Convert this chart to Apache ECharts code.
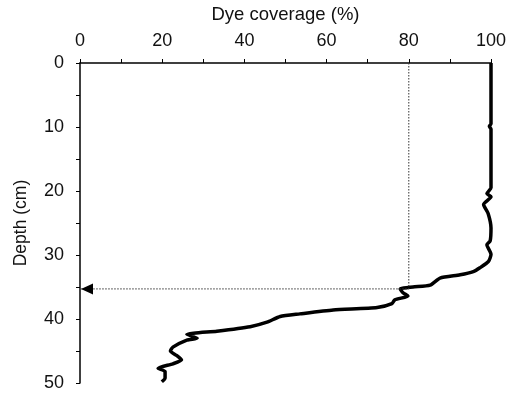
<!DOCTYPE html>
<html>
	<head>
		<meta charset="UTF-8">
		<title></title>
		<script src="https://cdn.jsdelivr.net/npm/echarts@6/dist/echarts.min.js"></script>
	</head>
	<body style="margin:0">
		<div id="profile" style="width: 513px; height: 396px;"></div>
		<script type="text/javascript">
			// dye coverage (%), with matching depth (cm)
			var coverage = [100, 100, 99.6, 100, 100, 99, 100, 98.2, 99.3, 100, 99.8, 99, 100, 99.4, 97.3, 95.7, 92.5, 87.6, 85.2, 81, 77.9, 78.6, 79.8, 76.6, 75.9, 72.3, 61.6, 53.5, 48.7, 45.5, 41.4, 33.3, 26, 28.5, 26, 22.6, 22, 23.5, 24.7, 22.6, 19, 20.7, 20.7, 19.9];
			var depth = [0, 9.5, 9.9, 10.3, 19.5, 20.4, 20.9, 22.1, 23.5, 25.8, 27.8, 28.4, 29.9, 31, 32, 32.6, 33.1, 33.6, 34.7, 35, 35.3, 35.9, 36.4, 37, 37.6, 38.2, 38.6, 39.2, 39.6, 40.5, 41.2, 41.9, 42.4, 43, 43.3, 44.4, 45, 45.7, 46.4, 47, 47.7, 48.2, 49.2, 49.8];
			// guide: 80 % coverage reached at this depth
			var guideCoverage = 80;
			var guideDepth = 35.3;

			var dom = document.getElementById('profile');
			var myChart = echarts.init(dom);
			var txt = '#111';
			var font = 'Liberation Sans';

			myChart.setOption({
				animation: false,
				textStyle: { fontFamily: font },
				grid: { left: 80, top: 60, right: 22, bottom: 13 },
				xAxis: {
					type: 'value',
					position: 'top',
					min: 0,
					max: 100,
					interval: 10,
					name: 'Dye coverage (%)',
					nameLocation: 'middle',
					nameGap: 39,
					nameTextStyle: { color: txt, fontSize: 18.5 },
					axisLine: { lineStyle: { color: '#000', width: 1.5 } },
					axisTick: { length: 4, lineStyle: { color: '#000' } },
					axisLabel: {
						color: txt,
						fontSize: 18,
						margin: 13,
						formatter: function(v) { return v % 20 === 0 ? v : ''; }
					},
					splitLine: { show: false }
				},
				yAxis: {
					type: 'value',
					inverse: true,
					min: 0,
					max: 50,
					interval: 5,
					name: 'Depth (cm)',
					nameLocation: 'middle',
					nameGap: 50,
					nameTextStyle: { color: txt, fontSize: 17.5 },
					axisLine: { show: true, lineStyle: { color: '#000', width: 1.5 } },
					axisTick: { show: true, length: 4, lineStyle: { color: '#000' } },
					axisLabel: {
						color: txt,
						fontSize: 18,
						margin: 16,
						formatter: function(v) { return v % 10 === 0 ? v : ''; }
					},
					splitLine: { show: false }
				},
				series: [{
					type: 'line',
					data: coverage.map(function(c, i) { return [c, depth[i]]; }),
					symbol: 'none',
					smooth: 0.2,
					clip: false,
					lineStyle: { color: '#000', width: 3.5 }
				}, {
					type: 'line',
					data: [[guideCoverage, 0], [guideCoverage, guideDepth], [0, guideDepth]],
					symbol: 'none',
					clip: false,
					lineStyle: { color: '#333', width: 1, type: [1.5, 1.5] },
					markPoint: {
						symbol: 'triangle',
						symbolSize: [11, 12],
						symbolRotate: 90,
						symbolOffset: [7, 0],
						itemStyle: { color: '#000' },
						label: { show: false },
						data: [{ coord: [0, guideDepth] }]
					}
				}]
			});
		</script>
	</body>
</html>
